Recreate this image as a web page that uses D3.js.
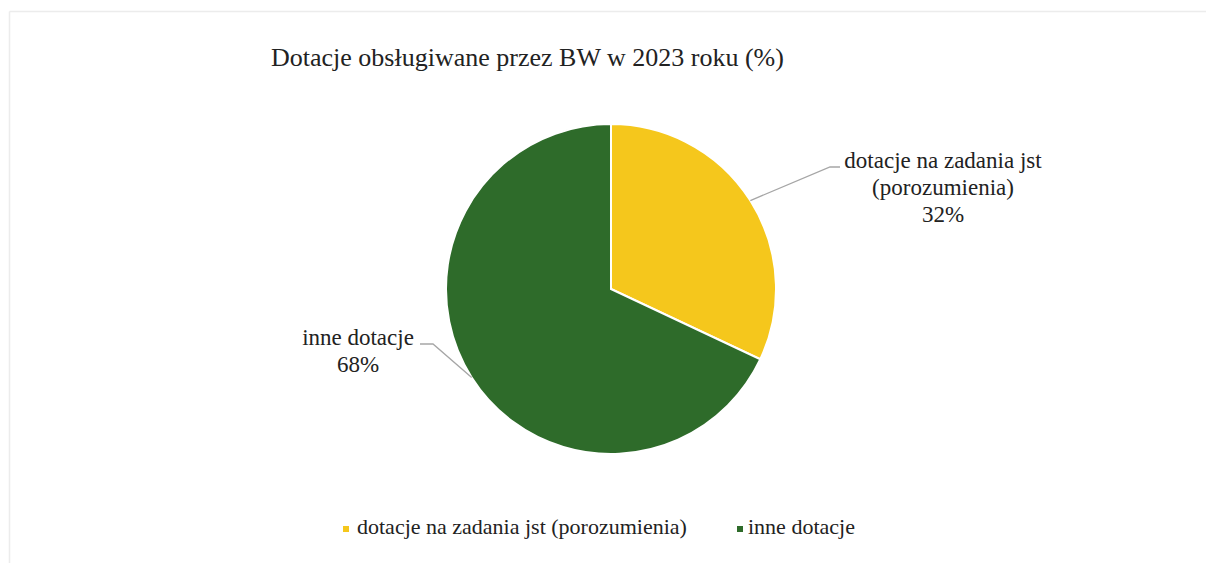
<!DOCTYPE html>
<html><head><meta charset="utf-8">
<script src="https://cdn.jsdelivr.net/npm/d3@7"></script>
<style>
html,body{margin:0;padding:0;background:#fff;}
svg{display:block;}
text{font-family:"Liberation Serif","Times New Roman",serif;fill:#222;}
</style></head>
<body>
<svg id="chart" width="1206" height="563"></svg>
<script>
const titleText = "Dotacje obsługiwane przez BW w 2023 roku (%)";
const categories = ["dotacje na zadania jst (porozumienia)", "inne dotacje"];
const values = [32, 68];
const labelLines = [["dotacje na zadania jst", "(porozumienia)", "32%"], ["inne dotacje", "68%"]];
const colors = ["#F5C71C", "#2E6B2A"];

const svg = d3.select("#chart");
const W = 1206, H = 563;

// faint frame
svg.append("line").attr("x1", 9.5).attr("y1", 11.5).attr("x2", W).attr("y2", 11.5).attr("stroke", "#ececec").attr("stroke-width", 1.5);
svg.append("line").attr("x1", 9.5).attr("y1", 11.5).attr("x2", 9.5).attr("y2", H).attr("stroke", "#ececec").attr("stroke-width", 1.5);

svg.append("text").attr("x", 271).attr("y", 66).attr("font-size", 26).text(titleText);

const cx = 611, cy = 289, r = 165;
const g = svg.append("g").attr("transform", `translate(${cx},${cy})`);
const pie = d3.pie().sort(null).value(d => d)(values);
const arc = d3.arc().innerRadius(0).outerRadius(r);
g.selectAll("path.slice").data(pie).join("path")
  .attr("class", "slice")
  .attr("d", arc)
  .attr("fill", (d, i) => colors[i])
  .attr("stroke", "#fff").attr("stroke-width", 2);

// labels with leader lines
const labelCfg = [
  {elbow: [219, -122], end: [229, -122], tx: 332, ty: -121, anchor: "middle"},
  {elbow: [-178, 55], end: [-191, 55], tx: -253, ty: 56, anchor: "middle"}
];
pie.forEach((d, i) => {
  const a = (d.startAngle + d.endAngle) / 2;
  const p0 = [Math.sin(a) * r, -Math.cos(a) * r];
  const c = labelCfg[i];
  g.append("polyline")
    .attr("points", [p0, c.elbow, c.end].map(p => p.join(",")).join(" "))
    .attr("fill", "none").attr("stroke", "#a6a6a6").attr("stroke-width", 1.3);
  const t = g.append("text").attr("text-anchor", c.anchor).attr("font-size", 23);
  labelLines[i].forEach((ln, j) => {
    t.append("tspan").attr("x", c.tx).attr("y", c.ty + j * 27).text(ln);
  });
});

// legend
const legendItems = [{x: 343, tx: 357}, {x: 737, tx: 748}];
categories.forEach((c, i) => {
  svg.append("rect").attr("x", legendItems[i].x).attr("y", 526).attr("width", 6).attr("height", 6).attr("fill", colors[i]);
  svg.append("text").attr("x", legendItems[i].tx).attr("y", 534).attr("font-size", 22).text(c);
});
</script>
</body></html>
